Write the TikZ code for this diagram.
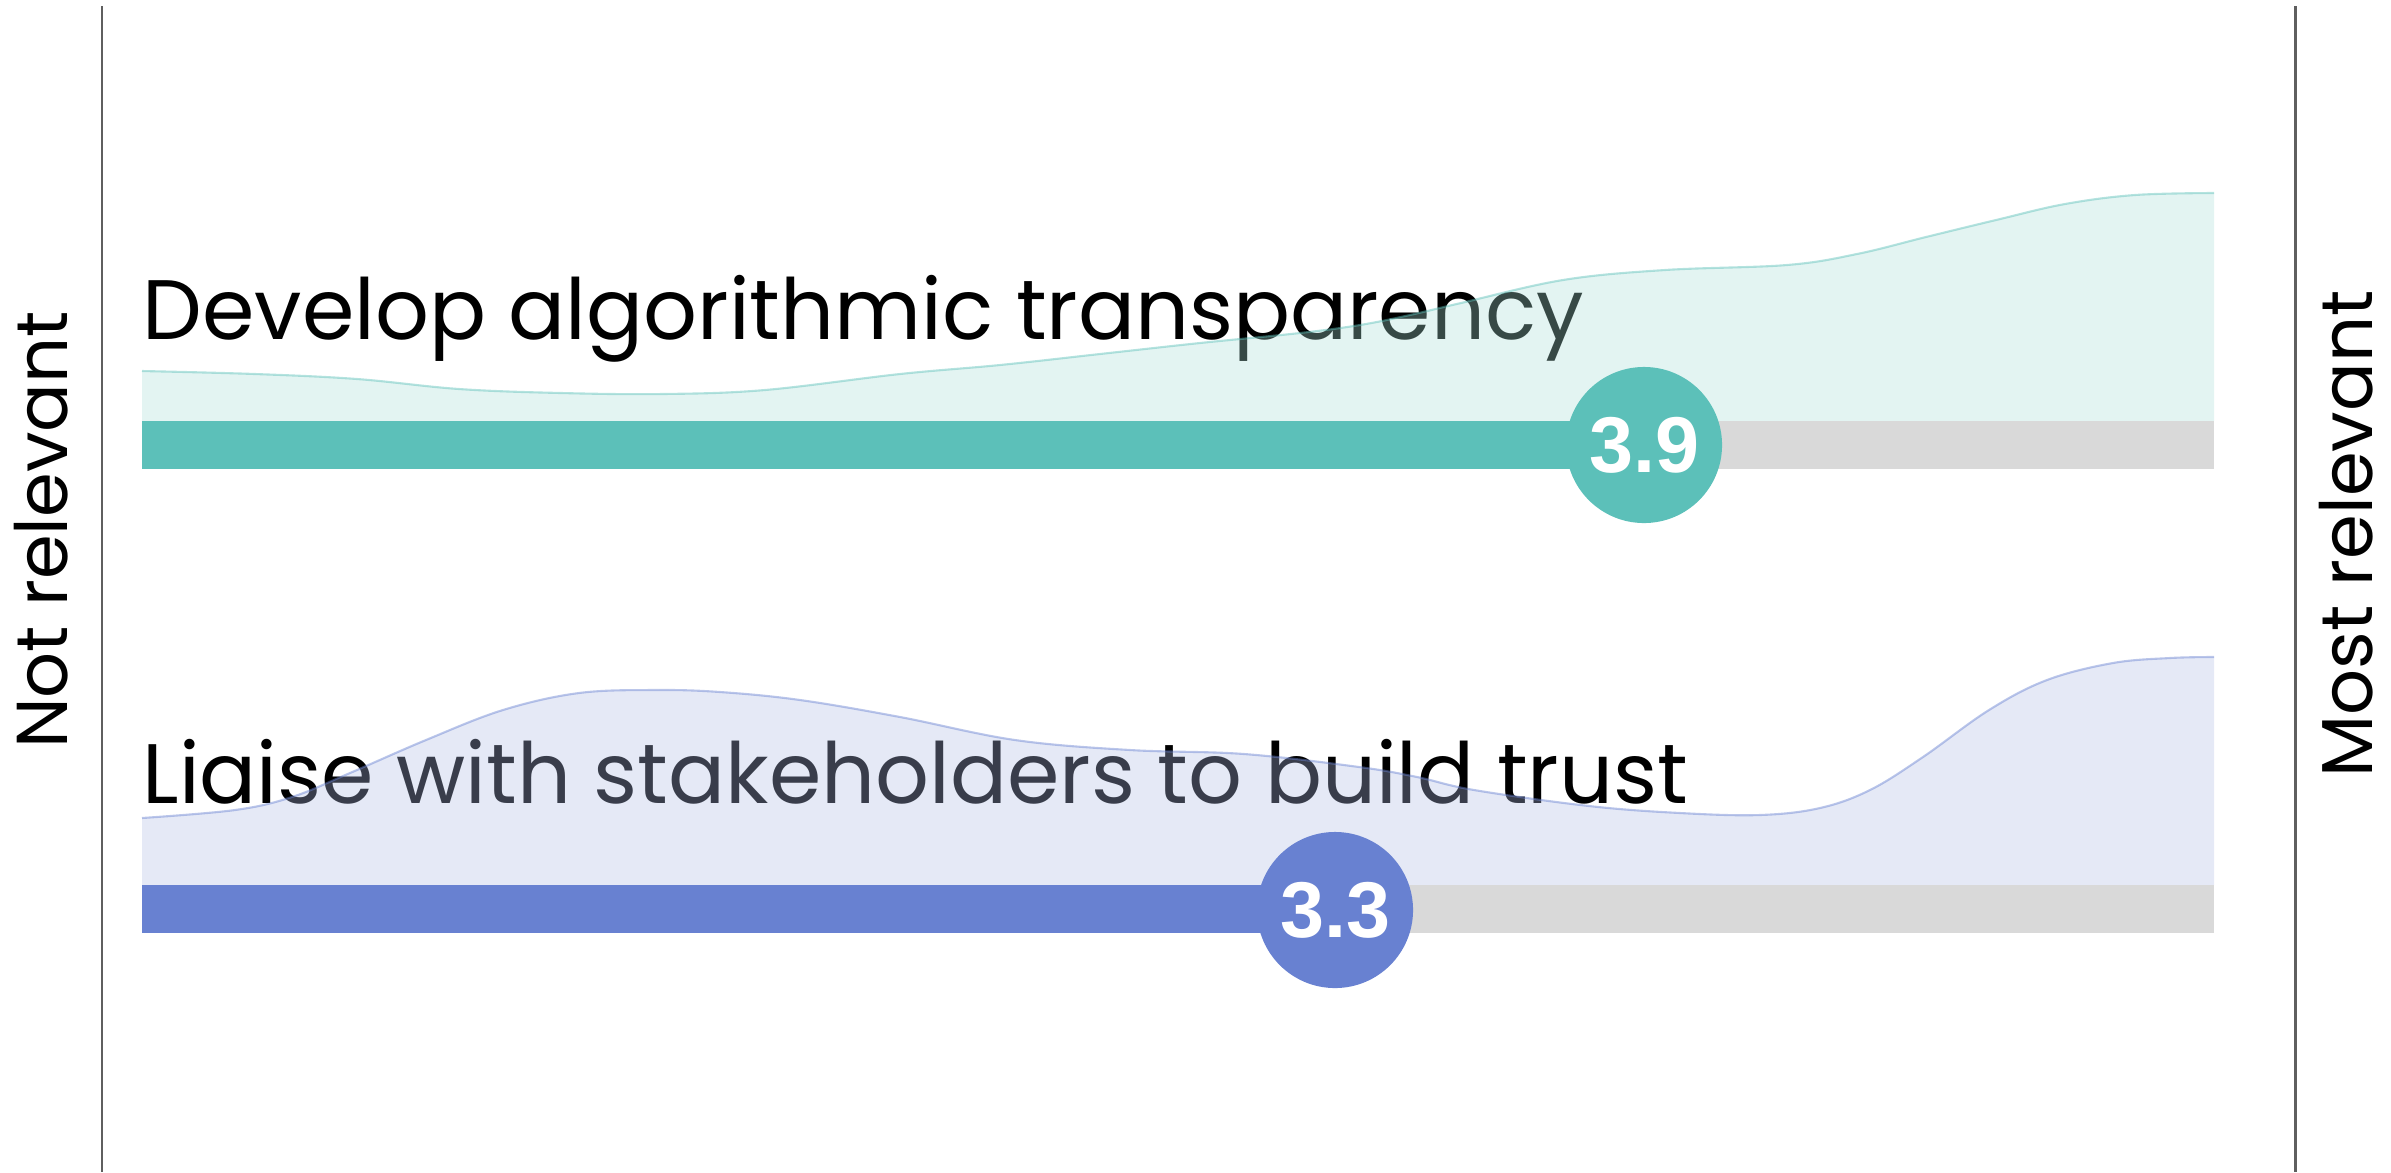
\documentclass[tikz,border=0pt]{standalone}
\usepackage{fontspec}
\setmainfont{Poppins}
\newfontfamily\numfont{Liberation Sans}
\usetikzlibrary{positioning}

\definecolor{tealbar}{RGB}{92,192,185}
\definecolor{tealarea}{RGB}{169,222,215}
\definecolor{bluebar}{RGB}{104,129,209}
\definecolor{bluearea}{RGB}{175,188,228}
\definecolor{trackgrey}{RGB}{217,217,217}
\definecolor{axisgrey}{RGB}{95,95,95}

\tikzset{
  axisline/.style={axisgrey, line width=0.85pt},
  sidelabel/.style={rotate=90, inner sep=0pt, font=\fontsize{20.5}{24}\selectfont},
  itemlabel/.style={anchor=base west, inner sep=0pt, font=\fontsize{24}{29}\selectfont},
  score/.style={circle, minimum size=1.56cm, inner sep=0pt, text=white,
    font=\numfont\bfseries\fontsize{22.5}{26}\selectfont},
  distfill/.style={fill opacity=0.33},
  distedge/.style={line width=0.6pt, draw opacity=0.45},
}

\begin{document}
\begin{tikzpicture}[x=0.01cm,y=-0.01cm]
  \useasboundingbox (0,0) rectangle (2391,1172);

  % scale ends
  \draw[axisline] (102,6) -- (102,1172);
  \draw[axisline] (2295,6) -- (2295,1172);
  \node[sidelabel] (notrel) at (41,530) {Not relevant};
  \node[sidelabel] (mostrel) at (2346,534) {Most relevant};

  % first item
  \node[itemlabel] (item1) at (142,339) {Develop algorithmic transparency};
  \fill[tealarea, distfill] plot[smooth, tension=0.6] coordinates {
    (142,371) (255,374) (357,379) (459,389) (561,393) (663,394) (765,390)
    (900,374) (1000,365) (1100,354) (1200,343) (1300,333) (1360,325)
    (1410,315) (1461,303) (1563,280) (1665,270) (1787,265) (1857,254)
    (1926,237) (1996,220) (2065,204) (2135,195) (2214,193)}
    -- (2214,421) -- (142,421) -- cycle;
  \draw[tealbar, distedge] plot[smooth, tension=0.6] coordinates {
    (142,371) (255,374) (357,379) (459,389) (561,393) (663,394) (765,390)
    (900,374) (1000,365) (1100,354) (1200,343) (1300,333) (1360,325)
    (1410,315) (1461,303) (1563,280) (1665,270) (1787,265) (1857,254)
    (1926,237) (1996,220) (2065,204) (2135,195) (2214,193)};
  \fill[trackgrey] (142,421) rectangle (2214,469);
  \fill[tealbar] (142,421) rectangle (1644,469);
  \node[score, fill=tealbar] (score1) at (1644,445) {3.9};

  % second item
  \node[itemlabel] (item2) at (142,803) {Liaise with stakeholders to build trust};
  \fill[bluearea, distfill] plot[smooth, tension=0.6] coordinates {
    (142,818) (235,810) (292,797) (350,773) (426,740) (503,710) (579,693)
    (656,690) (720,692) (800,700) (900,717) (1015,740) (1130,750)
    (1244,754) (1359,767) (1417,777) (1474,790) (1589,806) (1680,813)
    (1760,815) (1820,808) (1870,790) (1923,757) (1989,710) (2047,680)
    (2113,663) (2170,658) (2214,657)}
    -- (2214,885) -- (142,885) -- cycle;
  \draw[bluebar, distedge] plot[smooth, tension=0.6] coordinates {
    (142,818) (235,810) (292,797) (350,773) (426,740) (503,710) (579,693)
    (656,690) (720,692) (800,700) (900,717) (1015,740) (1130,750)
    (1244,754) (1359,767) (1417,777) (1474,790) (1589,806) (1680,813)
    (1760,815) (1820,808) (1870,790) (1923,757) (1989,710) (2047,680)
    (2113,663) (2170,658) (2214,657)};
  \fill[trackgrey] (142,885) rectangle (2214,933);
  \fill[bluebar] (142,885) rectangle (1335,933);
  \node[score, fill=bluebar] (score2) at (1335,910) {3.3};
\end{tikzpicture}
\end{document}
